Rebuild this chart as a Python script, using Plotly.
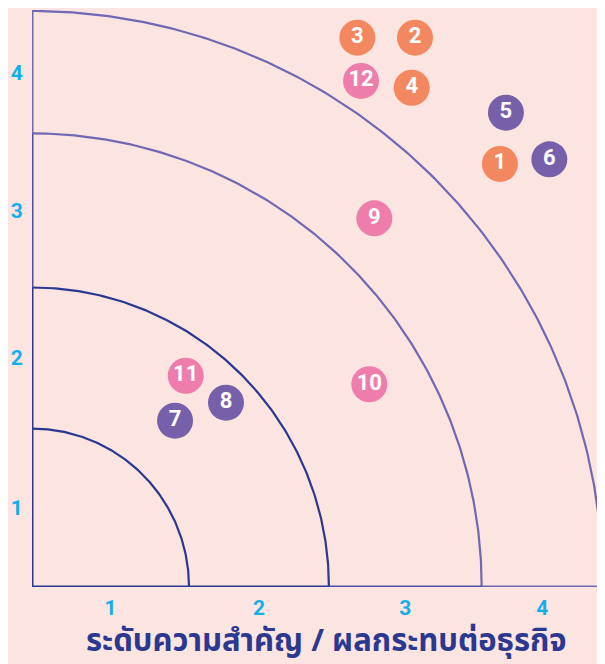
import numpy as np
import plotly.graph_objects as go

# ---- data ----
labels = ["1", "2", "3", "4", "5", "6", "7", "8", "9", "10", "11", "12"]
x_vals = [3.278, 2.683, 2.279, 2.660, 3.320, 3.624, 1.002, 1.359, 2.398, 2.363, 1.077, 2.305]
y_vals = [2.938, 3.815, 3.815, 3.467, 3.294, 2.970, 1.155, 1.280, 2.560, 1.408, 1.467, 3.514]
groups = ["o", "o", "o", "o", "p", "p", "p", "p", "k", "k", "k", "k"]
ring_radii = [1.1, 2.08, 3.15, 4.0]
tick_text = ["1", "2", "3", "4"]
x_title = "ระดับความสำคัญ / ผลกระทบต่อธุรกิจ"

# ---- styles ----
BG = "#fce4e1"
NAVY = "#2b388f"
MID = "#4d4fa3"
LIGHT = "#7068b3"
TICK = "#14aee9"
group_colors = {"o": "#f3875f", "p": "#7760aa", "k": "#ee7dac"}
ring_colors = [NAVY, NAVY, LIGHT, LIGHT]

fig = go.Figure()

# arcs
theta = np.linspace(0, np.pi / 2, 200)
for r, c in zip(ring_radii, ring_colors):
    fig.add_trace(go.Scatter(x=r * np.cos(theta), y=r * np.sin(theta), mode="lines",
                             line=dict(color=c, width=2.2), hoverinfo="skip", showlegend=False))

# axis segments between rings
seg_colors = [NAVY, MID, LIGHT]
bounds = [0, ring_radii[1], ring_radii[2], ring_radii[3]]
for i, c in enumerate(seg_colors):
    a, b = bounds[i], bounds[i + 1]
    fig.add_trace(go.Scatter(x=[a, b], y=[0, 0], mode="lines",
                             line=dict(color=c, width=3), hoverinfo="skip", showlegend=False))
    fig.add_trace(go.Scatter(x=[0, 0], y=[a, b], mode="lines",
                             line=dict(color=c, width=3), hoverinfo="skip", showlegend=False))

# points
fig.add_trace(go.Scatter(
    x=x_vals, y=y_vals, mode="markers+text", text=labels,
    textposition="middle center",
    textfont=dict(color="white", size=22, family="Roboto", weight="bold"),
    marker=dict(size=36, color=[group_colors[g] for g in groups], line=dict(width=0)),
    hoverinfo="skip", showlegend=False, cliponaxis=False))

# tick positions at band midpoints
edges = [0] + ring_radii
tick_vals = [(edges[i] + edges[i + 1]) / 2 for i in range(len(ring_radii))]

fig.update_xaxes(range=[0, 573 / 142.75], tickvals=tick_vals, ticktext=tick_text,
                 showgrid=False, zeroline=False, showline=False, automargin=False,
                 tickfont=dict(color=TICK, size=21, family="Roboto", weight="bold"),
                 ticks="outside", ticklen=2, tickcolor="rgba(0,0,0,0)")
fig.update_yaxes(range=[0, 577 / 144], tickvals=tick_vals, ticktext=tick_text,
                 showgrid=False, zeroline=False, showline=False, automargin=False,
                 tickfont=dict(color=TICK, size=21, family="Roboto", weight="bold"),
                 ticks="outside", ticklen=4, tickcolor="rgba(0,0,0,0)")

fig.add_annotation(text=x_title, xref="paper", yref="paper", x=0.5 + 8 / 573, y=-0.094,
                   xanchor="center", yanchor="middle", showarrow=False,
                   font=dict(color=NAVY, size=31, family="Noto Sans Thai, Noto Sans, sans-serif",
                             weight="bold"))

# page body has an 8px margin, so the figure is sized to fit the window
fig.update_layout(width=597, height=656, paper_bgcolor=BG, plot_bgcolor=BG,
                  margin=dict(l=24, r=0, t=2, b=77), showlegend=False)

fig.write_html("out.html")
